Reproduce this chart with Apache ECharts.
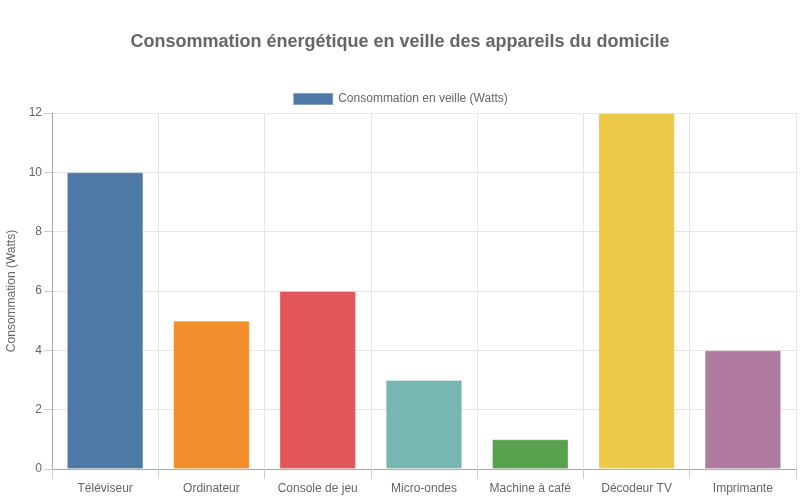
<!DOCTYPE html>
<html><head><meta charset="utf-8">
<script src="https://cdn.jsdelivr.net/npm/echarts@6/dist/echarts.min.js"></script>
<style>html,body{margin:0;padding:0;background:#fff}#c{width:800px;height:500px}</style>
</head><body><div id="c"></div>
<script>
const categories = ["Téléviseur","Ordinateur","Console de jeu","Micro-ondes","Machine à café","Décodeur TV","Imprimante"];
const values = [10,5,6,3,1,12,4];
const colors = ["#4e79a7","#f28e2b","#e15759","#76b7b2","#59a14f","#edc948","#b07aa1"];
const yTicks = [0,2,4,6,8,10,12];

const chart = echarts.init(document.getElementById('c'));
const font = '"Liberation Sans", Arial, sans-serif';
chart.setOption({
  animation:false,
  textStyle:{fontFamily:font},
  title:{text:"Consommation énergétique en veille des appareils du domicile",left:'center',top:28,
    textStyle:{fontSize:18,fontWeight:'bold',color:'#666',fontFamily:font}},
  legend:{top:87,left:'center',icon:'rect',itemWidth:40,itemHeight:12,itemGap:7,
    textStyle:{fontSize:12,color:'#666',fontFamily:font},
    data:[{name:"Consommation en veille (Watts)",itemStyle:{color:colors[0]}}]},
  grid:{left:52,right:4,top:113,bottom:31,containLabel:false,outerBoundsMode:'none'},
  xAxis:{type:'category',data:categories,boundaryGap:true,
    axisLine:{lineStyle:{color:'#aaa'}},
    axisTick:{show:true,length:10,interval:0,lineStyle:{color:'#ccc'}},
    axisLabel:{color:'#666',fontSize:12,margin:14,interval:0,fontFamily:font},
    splitLine:{show:true,interval:0,lineStyle:{color:'#e6e6e6'}}},
  yAxis:{type:'value',min:0,max:12,interval:2,
    name:"Consommation (Watts)",nameLocation:'middle',nameGap:34,nameRotate:90,
    nameTextStyle:{color:'#666',fontSize:12,fontFamily:font},
    axisLine:{show:true,lineStyle:{color:'#aaa'}},
    axisTick:{show:true,length:8,lineStyle:{color:'#ccc'}},
    axisLabel:{color:'#666',fontSize:12,margin:10,fontFamily:font,
      formatter:v=>yTicks.includes(v)?String(v):''},
    splitLine:{show:true,lineStyle:{color:'#e6e6e6'}}},
  series:[{name:"Consommation en veille (Watts)",type:'bar',barWidth:'72%',
    data:values.map((v,i)=>({value:v,itemStyle:{color:colors[i]}})),
    itemStyle:{borderColor:'rgba(255,255,255,0.3)',borderWidth:1}}]
});
</script></body></html>
